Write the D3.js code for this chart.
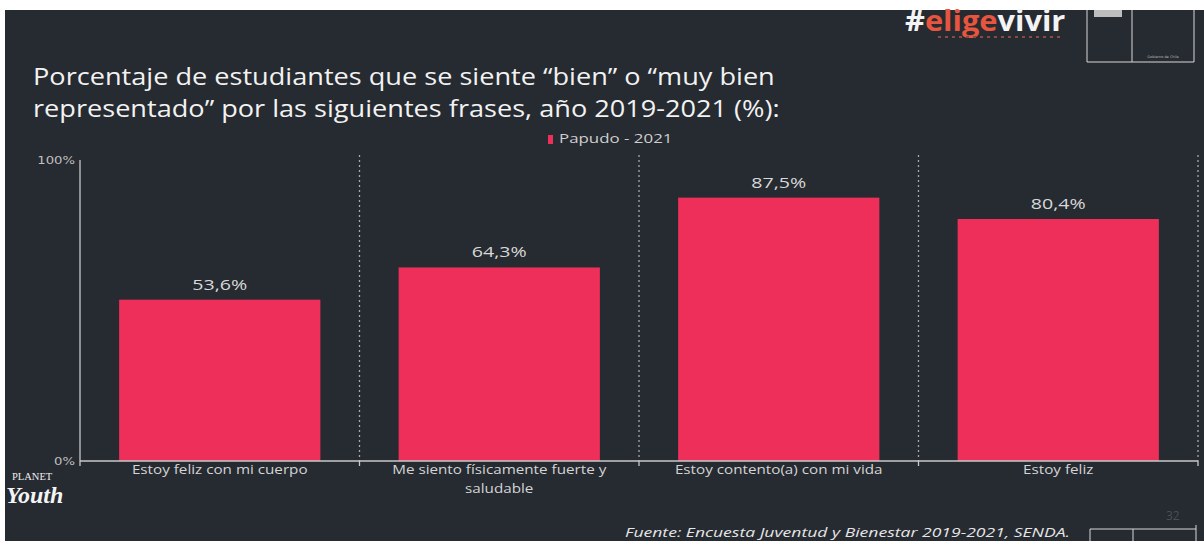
<!DOCTYPE html>
<html><head><meta charset="utf-8">
<script src="https://cdn.jsdelivr.net/npm/d3@7/dist/d3.min.js"></script>
<style>html,body{margin:0;padding:0;background:#fff;}svg{display:block;}</style>
</head><body>
<svg id="c" width="1204" height="541"></svg>
<script>
const categories = ["Estoy feliz con mi cuerpo", "Me siento físicamente fuerte y saludable", "Estoy contento(a) con mi vida", "Estoy feliz"];
const categoryLines = [["Estoy feliz con mi cuerpo"], ["Me siento físicamente fuerte y", "saludable"], ["Estoy contento(a) con mi vida"], ["Estoy feliz"]];
const values = [53.6, 64.3, 87.5, 80.4];
const valueLabels = ["53,6%", "64,3%", "87,5%", "80,4%"];
const yTicks = [0, 100];
const yTickLabels = ["0%", "100%"];
const seriesName = "Papudo - 2021";
const titleLines = ["Porcentaje de estudiantes que se siente “bien” o “muy bien", "representado” por las siguientes frases, año 2019-2021 (%):"];
const source = "Fuente: Encuesta Juventud y Bienestar 2019-2021, SENDA.";

const svg = d3.select("#c");
const W = 1204, H = 541;
const BG = "#262a31", BAR = "#ee2f5a";

// widen text the way the (horizontally stretched) reference fonts look
function stretch(sel, f) {
  sel.each(function() {
    const n = this;
    const L = n.getComputedTextLength();
    d3.select(n).attr("textLength", L * f).attr("lengthAdjust", "spacingAndGlyphs");
  });
}

svg.append("rect").attr("width", W).attr("height", H).attr("fill", "#fff");
svg.append("rect").attr("x", 5).attr("y", 10).attr("width", W - 5).attr("height", H - 10).attr("fill", BG);

const m = {l: 80, r: 1198, t: 160, b: 461};
const x = d3.scaleBand().domain(categories).range([m.l, m.r]).paddingInner(0.28).paddingOuter(0.14);
const y = d3.scaleLinear().domain([0, 100]).range([m.b, m.t]);

// title
titleLines.forEach((t, i) => {
  const tt = svg.append("text").attr("x", 33).attr("y", 85 + i * 32).attr("fill", "#f2f2f2")
    .attr("font-family", "Open Sans, sans-serif").attr("font-size", 24).text(t);
  stretch(tt, 1.13);
});

// legend
const lg = svg.append("g").attr("transform", "translate(548,143)");
lg.append("rect").attr("x", 0).attr("y", -8).attr("width", 5).attr("height", 9).attr("fill", BAR);
const lgt = lg.append("text").attr("x", 11).attr("y", 0).attr("fill", "#cfcfcf")
  .attr("font-family", "Open Sans, sans-serif").attr("font-size", 12.5).text(seriesName);
stretch(lgt, 1.35);

// dotted separators (band boundaries)
const bounds = categories.map(c => x(c) + x.bandwidth() + x.step() * x.paddingInner() / 2);
bounds[bounds.length - 1] = m.r;
svg.append("g").selectAll("line").data(bounds).join("line")
  .attr("x1", d => d).attr("x2", d => d).attr("y1", m.t - 5).attr("y2", m.b)
  .attr("stroke", "#a3a9b0").attr("stroke-width", 1.3).attr("stroke-dasharray", "2,3");

// bars
svg.append("g").selectAll("rect").data(values).join("rect")
  .attr("x", (d, i) => x(categories[i])).attr("width", x.bandwidth())
  .attr("y", d => y(d)).attr("height", d => y(0) - y(d)).attr("fill", BAR);

// value labels
const vl = svg.append("g").selectAll("text").data(values).join("text")
  .attr("x", (d, i) => x(categories[i]) + x.bandwidth() / 2).attr("y", d => y(d) - 10)
  .attr("text-anchor", "middle").attr("fill", "#d8d8d8")
  .attr("font-family", "Open Sans, sans-serif").attr("font-size", 14)
  .text((d, i) => valueLabels[i]);
stretch(vl, 1.4);

// y axis
svg.append("line").attr("x1", m.l).attr("x2", m.l).attr("y1", m.t).attr("y2", m.b)
  .attr("stroke", "#c8c8c8").attr("stroke-width", 1.3);
const yl = svg.append("g").selectAll("text").data(yTicks).join("text")
  .attr("x", m.l - 5).attr("y", d => y(d) + 4).attr("text-anchor", "end")
  .attr("fill", "#bfbfbf").attr("font-family", "DejaVu Sans, sans-serif").attr("font-size", 11)
  .text((d, i) => yTickLabels[i]);
stretch(yl, 1.2);

// x axis
svg.append("line").attr("x1", m.l).attr("x2", m.r).attr("y1", m.b).attr("y2", m.b)
  .attr("stroke", "#c8c8c8").attr("stroke-width", 1.3);
svg.append("g").selectAll("line").data([m.l].concat(bounds)).join("line")
  .attr("x1", d => d).attr("x2", d => d).attr("y1", m.b).attr("y2", m.b + 5)
  .attr("stroke", "#c8c8c8").attr("stroke-width", 1.3);
const xg = svg.append("g");
categories.forEach((c, i) => {
  categoryLines[i].forEach((ln, j) => {
    const t = xg.append("text").attr("text-anchor", "middle").attr("fill", "#d4d4d4")
      .attr("font-family", "Open Sans, sans-serif").attr("font-size", 13)
      .attr("x", x(c) + x.bandwidth() / 2).attr("y", m.b + 13 + j * 19).text(ln);
    stretch(t, 1.17);
  });
});

// source
const src = svg.append("text").attr("x", 625).attr("y", 537).attr("fill", "#e6e6e6")
  .attr("font-family", "Open Sans, sans-serif").attr("font-style", "italic").attr("font-size", 13.5)
  .text(source);
stretch(src, 1.3);

// logo #eligevivir
const logo = svg.append("text").attr("x", 905).attr("y", 31)
  .attr("font-family", "Open Sans, sans-serif").attr("font-weight", "bold").attr("font-size", 28);
logo.append("tspan").attr("fill", "#f4f4f4").text("#");
logo.append("tspan").attr("fill", "#e8553e").text("elige");
logo.append("tspan").attr("fill", "#f4f4f4").text("vivir");
stretch(logo, 1.1);
svg.append("line").attr("x1", 938).attr("x2", 1062).attr("y1", 37).attr("y2", 37)
  .attr("stroke", "#8a4a40").attr("stroke-width", 2).attr("stroke-dasharray", "3,4");

// government box
const gb = svg.append("g").attr("fill", "none").attr("stroke", "#d8d8d8").attr("stroke-width", 1);
gb.append("line").attr("x1", 1087).attr("x2", 1087).attr("y1", 10).attr("y2", 62);
gb.append("line").attr("x1", 1087).attr("x2", 1194).attr("y1", 62).attr("y2", 62);
gb.append("line").attr("x1", 1132).attr("x2", 1132).attr("y1", 10).attr("y2", 62);
gb.append("line").attr("x1", 1194).attr("x2", 1194).attr("y1", 10).attr("y2", 62);
svg.append("rect").attr("x", 1094).attr("y", 10).attr("width", 28).attr("height", 7).attr("fill", "#bdbdbd");
svg.append("text").attr("x", 1163).attr("y", 58).attr("text-anchor", "middle").attr("fill", "#bbb")
  .attr("font-family", "DejaVu Sans, sans-serif").attr("font-size", 3.5).text("Gobierno de Chile");

// bottom-right box
const bb = svg.append("g").attr("fill", "none").attr("stroke", "#d8d8d8").attr("stroke-width", 1);
bb.append("line").attr("x1", 1090).attr("x2", 1196).attr("y1", 529).attr("y2", 529);
bb.append("line").attr("x1", 1090).attr("x2", 1090).attr("y1", 529).attr("y2", 541);
bb.append("line").attr("x1", 1133).attr("x2", 1133).attr("y1", 529).attr("y2", 541);
bb.append("line").attr("x1", 1196).attr("x2", 1196).attr("y1", 525).attr("y2", 541);
svg.append("text").attr("x", 1166).attr("y", 520).attr("fill", "#4a4f57")
  .attr("font-family", "Open Sans, sans-serif").attr("font-size", 12).text("32");

// Planet Youth
svg.append("text").attr("x", 12).attr("y", 480).attr("fill", "#eee")
  .attr("font-family", "Liberation Serif, serif").attr("font-size", 10.5).text("PLANET");
svg.append("text").attr("x", 6).attr("y", 503).attr("fill", "#f4f4f4")
  .attr("font-family", "Liberation Serif, serif").attr("font-style", "italic").attr("font-weight", "bold")
  .attr("font-size", 24).text("Youth");
</script>
</body></html>
